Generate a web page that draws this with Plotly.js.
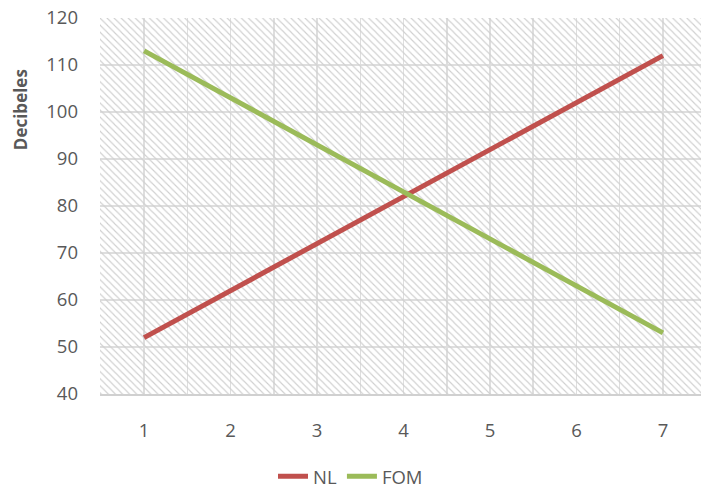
<!DOCTYPE html>
<html>
<head>
<meta charset="utf-8">
<script src="https://cdn.plot.ly/plotly-3.0.1.min.js"></script>
<style>html,body{margin:0;padding:0;background:#fff;}#chart{width:701px;height:489px;}</style>
</head>
<body>
<div id="chart"></div>
<script>
const categories = [1, 2, 3, 4, 5, 6, 7];
const nlValues = [52, 62, 72, 82, 92, 102, 112];
const fomValues = [113, 103, 93, 83, 73, 63, 53];
const seriesNames = ['NL', 'FOM'];
const seriesColors = ['#c0504d', '#9bbb59'];
const yTickVals = [40, 50, 60, 70, 80, 90, 100, 110, 120];
const yAxisTitle = 'Decibeles';

const xRange = [0.49, 7.44];
const yRange = [40, 120];

// gridlines at categories and halfway between them; labels only at categories
const xGridVals = [];
const xGridText = [];
categories.forEach(function (c) {
  xGridVals.push(c - 0.5); xGridText.push('');
  xGridVals.push(c); xGridText.push(String(c));
});
xGridVals.push(categories[categories.length - 1] + 0.5); xGridText.push('');

const fontFam = '"Open Sans", "Noto Sans", sans-serif';
const txtColor = '#595959';

const traces = [
  { // hatched plot-area background, spanning the axis ranges
    x: [xRange[0], xRange[1], xRange[1], xRange[0], xRange[0]],
    y: [yRange[0], yRange[0], yRange[1], yRange[1], yRange[0]],
    mode: 'none', fill: 'toself',
    fillcolor: 'rgba(0,0,0,0)',
    fillpattern: { shape: '\\', fgcolor: '#cfcfcf', bgcolor: 'rgba(255,255,255,0)', size: 5, solidity: 0.22 },
    hoverinfo: 'skip', showlegend: false
  },
  {
    x: categories, y: nlValues, name: seriesNames[0], mode: 'lines',
    line: { color: seriesColors[0], width: 5 }
  },
  {
    x: categories, y: fomValues, name: seriesNames[1], mode: 'lines',
    line: { color: seriesColors[1], width: 5 }
  }
];

const layout = {
  width: 701, height: 489,
  margin: { l: 100, r: 0, t: 18, b: 95 },
  paper_bgcolor: '#ffffff', plot_bgcolor: '#ffffff',
  font: { family: fontFam, color: txtColor, size: 18 },
  xaxis: {
    range: xRange, tickmode: 'array', tickvals: xGridVals, ticktext: xGridText,
    showgrid: true, gridcolor: '#dedede', gridwidth: 1.5, zeroline: false,
    showline: true, linecolor: '#d0d0d0', linewidth: 1.5, ticks: '',
    ticklabelstandoff: 19, tickfont: { size: 18.5, color: txtColor, family: fontFam },
    fixedrange: true
  },
  yaxis: {
    range: yRange, tickmode: 'array', tickvals: yTickVals,
    showgrid: true, gridcolor: '#dedede', gridwidth: 1.5, zeroline: false,
    showline: false, ticks: '', ticklabelstandoff: 21,
    tickfont: { size: 18.5, color: txtColor, family: fontFam },
    fixedrange: true
  },
  annotations: [{
    text: '<b>' + yAxisTitle + '</b>', textangle: -90,
    xref: 'paper', yref: 'paper', x: -0.133, y: 0.755,
    xanchor: 'center', yanchor: 'middle', showarrow: false,
    font: { size: 17, color: txtColor, family: fontFam }
  }],
  showlegend: true,
  legend: {
    orientation: 'h', x: 0.5, xanchor: 'center', xref: 'container',
    y: 0.025, yanchor: 'middle', yref: 'container',
    font: { size: 18.5, color: txtColor, family: fontFam },
    traceorder: 'normal'
  }
};

Plotly.newPlot('chart', traces, layout, { displayModeBar: false, staticPlot: true });
</script>
</body>
</html>
